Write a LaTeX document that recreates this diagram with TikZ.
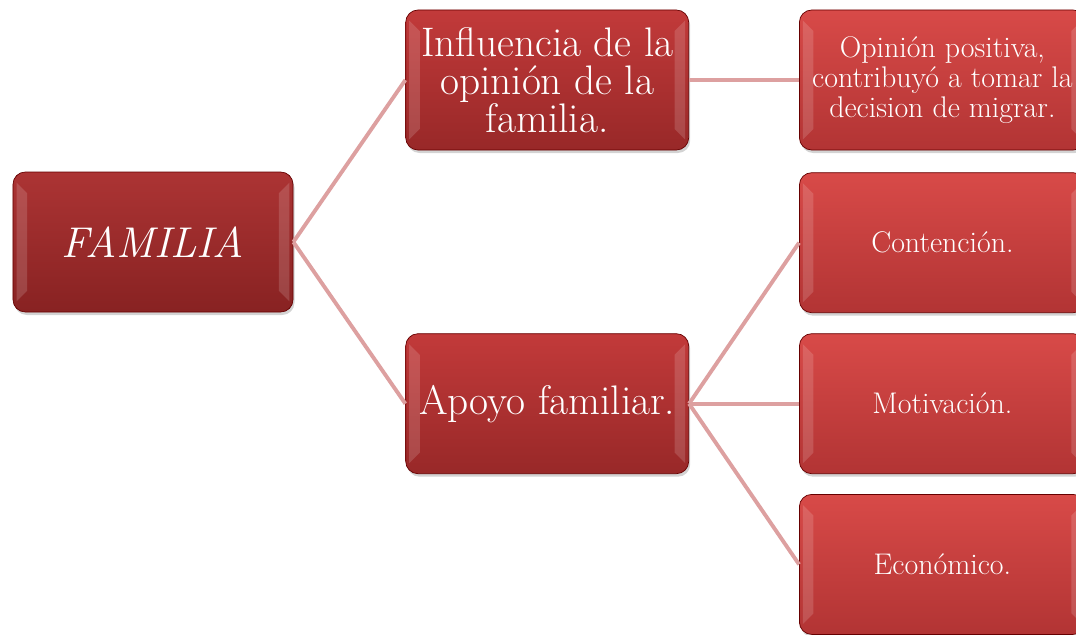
\documentclass[tikz,border=0pt]{standalone}
\usetikzlibrary{positioning, shadows}
\definecolor{famtop}{RGB}{172,52,52}
\definecolor{fambot}{RGB}{136,34,34}
\definecolor{midtop}{RGB}{194,58,58}
\definecolor{midbot}{RGB}{152,40,40}
\definecolor{leaftop}{RGB}{216,74,72}
\definecolor{leafbot}{RGB}{178,52,52}
\definecolor{branch}{RGB}{221,160,160}
\tikzset{
	box/.style={
		rectangle,
		draw=black!60!red,
		line width=0.4pt,
		text=white,
		align=center,
		rounded corners=7pt,
		inner sep=2pt,
		minimum height=2.8cm,
		drop shadow={opacity=0.35, shadow xshift=0.03cm, shadow yshift=-0.06cm},
		path picture={
			\fill[white,opacity=0.15,sharp corners] ([xshift=2pt,yshift=-6pt]path picture bounding box.north west) -- ([xshift=8pt,yshift=-12pt]path picture bounding box.north west) -- ([xshift=8pt,yshift=12pt]path picture bounding box.south west) -- ([xshift=2pt,yshift=6pt]path picture bounding box.south west) -- cycle;
			\fill[white,opacity=0.15,sharp corners] ([xshift=-2pt,yshift=-6pt]path picture bounding box.north east) -- ([xshift=-8pt,yshift=-12pt]path picture bounding box.north east) -- ([xshift=-8pt,yshift=12pt]path picture bounding box.south east) -- ([xshift=-2pt,yshift=6pt]path picture bounding box.south east) -- cycle;
		},
	},
	root/.style={
		box,
		top color=famtop,
		bottom color=fambot,
		minimum width=5.6cm,
		font=\fontsize{24.5}{25}\selectfont\itshape,
	},
	mid/.style={
		box,
		top color=midtop,
		bottom color=midbot,
		minimum width=5.66cm,
		font=\fontsize{23.5}{21.5}\selectfont,
	},
	leaf/.style={
		box,
		top color=leaftop,
		bottom color=leafbot,
		minimum width=5.72cm,
		font=\fontsize{17}{17}\selectfont,
	},
	branch/.style={
		draw=branch,
		line width=2.2pt,
	},
}
\begin{document}
\begin{tikzpicture}
	\useasboundingbox (0,0) rectangle (21.52,-12.7);
	\node [root] (fam) at (3.06,-4.84) {FAMILIA};
	\node [mid, right=2.24cm of fam, yshift=3.24cm] (infl) {Influencia de la\\opinión de la\\familia.};
	\node [mid, below=3.66cm of infl] (apoyo) {Apoyo familiar.};
	\node [leaf, right=2.2cm of infl] (opin) {Opinión positiva,\\contribuyó a tomar la\\decision de migrar.};
	\node [leaf, right=2.2cm of apoyo, yshift=3.22cm] (cont) {Contención.};
	\node [leaf, right=2.2cm of apoyo] (motiv) {Motivación.};
	\node [leaf, below=0.4cm of motiv] (econ) {Económico.};

	\draw [branch] (fam.east) -- (infl.west);
	\draw [branch] (fam.east) -- (apoyo.west);
	\draw [branch] (infl.east) -- (opin.west);
	\draw [branch] (apoyo.east) -- (cont.west);
	\draw [branch] (apoyo.east) -- (motiv.west);
	\draw [branch] (apoyo.east) -- (econ.west);
\end{tikzpicture}
\end{document}
